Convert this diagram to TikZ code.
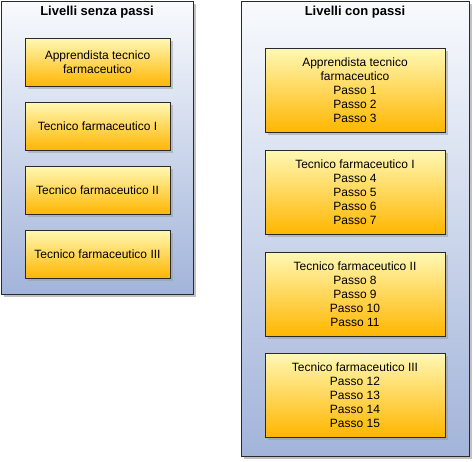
\documentclass[tikz,border=0pt]{standalone}
\usepackage{fontspec}
\setmainfont{Liberation Sans}
\usetikzlibrary{positioning, shadows}
\definecolor{panetop}{HTML}{F8FAFD}
\definecolor{panebot}{HTML}{A2B4DA}
\definecolor{lvtop}{HTML}{FFF8B4}
\definecolor{lvbot}{HTML}{FFB600}
\definecolor{edgegray}{HTML}{2A2A2A}
\tikzset{
    pane/.style={rectangle, draw=edgegray, line width=1pt, top color=panetop, bottom color=panebot, anchor=north west, inner sep=0pt,
        drop shadow={shadow xshift=2.5pt, shadow yshift=-2.5pt, fill=black!40, opacity=0.6}},
    panetitle/.style={font=\fontsize{13}{15}\selectfont\bfseries, inner sep=0pt},
    lvbox/.style={rectangle, draw=edgegray, line width=0.9pt, top color=lvtop, bottom color=lvbot, align=center, inner sep=0pt,
        font=\fontsize{12}{14}\selectfont, drop shadow={shadow xshift=2.5pt, shadow yshift=-2.5pt, fill=black!40, opacity=0.5}},
    shortbox/.style={lvbox, minimum width=145pt, minimum height=48pt},
    longbox/.style={lvbox, minimum width=180pt, minimum height=84pt}
}
\begin{document}
\begin{tikzpicture}[x=1pt, y=-1pt]
    \useasboundingbox (0,0) rectangle (473,461);
    % two panels
    \node[pane, minimum width=192pt, minimum height=293pt] (senza) at (1,1) {};
    \node[pane, minimum width=228pt, minimum height=455pt] (con) at (241,1) {};
    \node[panetitle] (tsenza) at (97,12) {Livelli senza passi};
    \node[panetitle] (tcon) at (355,12) {Livelli con passi};
    % levels without steps
    \node[shortbox, anchor=north] (s1) at (97.5,38) {Apprendista tecnico\\farmaceutico};
    \node[shortbox, below=15pt of s1] (s2) {Tecnico farmaceutico I};
    \node[shortbox, below=15pt of s2] (s3) {Tecnico farmaceutico II};
    \node[shortbox, below=15pt of s3] (s4) {Tecnico farmaceutico III};
    % levels with steps
    \node[longbox, anchor=north] (c1) at (355,48) {Apprendista tecnico\\farmaceutico\\Passo 1\\Passo 2\\Passo 3};
    \node[longbox, below=17pt of c1] (c2) {Tecnico farmaceutico I\\Passo 4\\Passo 5\\Passo 6\\Passo 7};
    \node[longbox, below=17pt of c2] (c3) {Tecnico farmaceutico II\\Passo 8\\Passo 9\\Passo 10\\Passo 11};
    \node[longbox, below=16pt of c3] (c4) {Tecnico farmaceutico III\\Passo 12\\Passo 13\\Passo 14\\Passo 15};
\end{tikzpicture}
\end{document}
